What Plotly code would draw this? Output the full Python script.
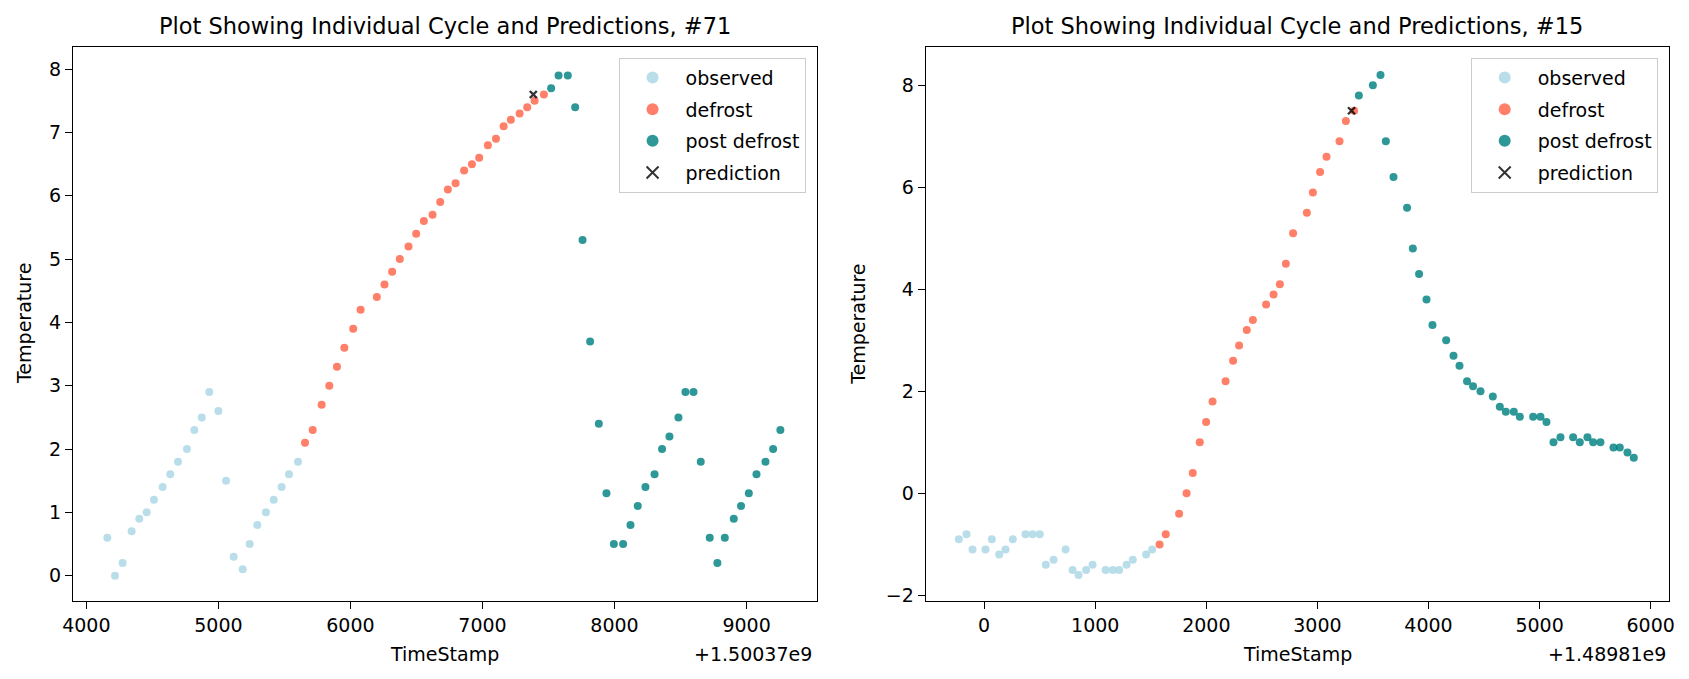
import plotly.graph_objects as go

# ---------------- data: cycle #71 (x = TimeStamp - 1.50037e9) ----------------
offset_71 = "+1.50037e9"
obs_x_71 = [4159, 4217, 4275, 4343, 4401, 4457, 4512, 4578, 4636, 4694, 4762, 4818, 4874,
            4931, 5000, 5058, 5116, 5184, 5237, 5295, 5360, 5419, 5479, 5535, 5603]
obs_y_71 = [0.6, 0.0, 0.2, 0.7, 0.9, 1.0, 1.2, 1.4, 1.6, 1.8, 2.0, 2.3, 2.5,
            2.9, 2.6, 1.5, 0.3, 0.1, 0.5, 0.8, 1.0, 1.2, 1.4, 1.6, 1.8]
def_x_71 = [5656, 5714, 5782, 5840, 5898, 5954, 6021, 6077, 6200, 6258, 6316, 6374, 6440,
            6498, 6556, 6622, 6680, 6738, 6796, 6861, 6920, 6975, 7041, 7102, 7160, 7215,
            7281, 7339, 7395, 7465]
def_y_71 = [2.1, 2.3, 2.7, 3.0, 3.3, 3.6, 3.9, 4.2, 4.4, 4.6, 4.8, 5.0, 5.2,
            5.4, 5.6, 5.7, 5.9, 6.1, 6.2, 6.4, 6.5, 6.6, 6.8, 6.9, 7.1, 7.2,
            7.3, 7.4, 7.5, 7.6]
post_x_71 = [7520, 7576, 7646, 7702, 7758, 7815, 7881, 7939, 7995, 8065, 8121, 8176, 8234,
             8303, 8360, 8416, 8484, 8537, 8598, 8653, 8721, 8779, 8835, 8903, 8958, 9017,
             9075, 9143, 9201, 9256]
post_y_71 = [7.7, 7.9, 7.9, 7.4, 5.3, 3.7, 2.4, 1.3, 0.5, 0.5, 0.8, 1.1, 1.4,
             1.6, 2.0, 2.2, 2.5, 2.9, 2.9, 1.8, 0.6, 0.2, 0.6, 0.9, 1.1, 1.3,
             1.6, 1.8, 2.0, 2.3]
pred_x_71 = [7385]
pred_y_71 = [7.6]

# ---------------- data: cycle #15 (x = TimeStamp - 1.48981e9) ----------------
offset_15 = "+1.48981e9"
obs_x_15 = [-228, -159, -105, 12, 69, 135, 192, 258, 372, 436, 501, 555, 625, 733, 796,
            850, 918, 976, 1093, 1158, 1215, 1282, 1338, 1458, 1512]
obs_y_15 = [-0.9, -0.8, -1.1, -1.1, -0.9, -1.2, -1.1, -0.9, -0.8, -0.8, -0.8, -1.4, -1.3,
            -1.1, -1.5, -1.6, -1.5, -1.4, -1.5, -1.5, -1.5, -1.4, -1.3, -1.2, -1.1]
def_x_15 = [1579, 1635, 1755, 1822, 1878, 1941, 1998, 2056, 2173, 2241, 2295, 2364, 2419,
            2538, 2605, 2662, 2716, 2781, 2905, 2959, 3024, 3082, 3199, 3256, 3331]
def_y_15 = [-1.0, -0.8, -0.4, 0.0, 0.4, 1.0, 1.4, 1.8, 2.2, 2.6, 2.9, 3.2, 3.4,
            3.7, 3.9, 4.1, 4.5, 5.1, 5.5, 5.9, 6.3, 6.6, 6.9, 7.3, 7.5]
post_x_15 = [3373, 3499, 3568, 3616, 3685, 3807, 3859, 3915, 3982, 4036, 4159, 4225, 4279,
             4347, 4401, 4468, 4579, 4642, 4696, 4768, 4822, 4942, 5008, 5062, 5125, 5188,
             5302, 5362, 5431, 5482, 5548, 5665, 5722, 5791, 5848]
post_y_15 = [7.8, 8.0, 8.2, 6.9, 6.2, 5.6, 4.8, 4.3, 3.8, 3.3, 3.0, 2.7, 2.5,
             2.2, 2.1, 2.0, 1.9, 1.7, 1.6, 1.6, 1.5, 1.5, 1.5, 1.4, 1.0, 1.1,
             1.1, 1.0, 1.1, 1.0, 1.0, 0.9, 0.9, 0.8, 0.7]
pred_x_15 = [3307]
pred_y_15 = [7.5]

titles = ["Plot Showing Individual Cycle and Predictions, #71",
          "Plot Showing Individual Cycle and Predictions, #15"]
series_names = ["observed", "defrost", "post defrost", "prediction"]

# ---------------- styling ----------------
FONT = "DejaVu Sans"
C_OBS = "rgba(173,216,230,0.85)"
C_DEF = "rgba(255,99,71,0.82)"
C_POST = "rgba(0,128,128,0.82)"
C_PRED = "rgba(0,0,0,0.8)"
MS = 8

W, H = 1689, 679
ML, MR, MT, MB = 73, 19.7, 46.7, 78
PW = W - ML - MR
PH = H - MT - MB


def px_x(x):
    return (x - ML) / PW


def px_y(y):
    return 1 - (y - MT) / PH


fig = go.Figure()

panels = [
    (obs_x_71, obs_y_71, def_x_71, def_y_71, post_x_71, post_y_71, pred_x_71, pred_y_71, "x", "y", "legend"),
    (obs_x_15, obs_y_15, def_x_15, def_y_15, post_x_15, post_y_15, pred_x_15, pred_y_15, "x2", "y2", "legend2"),
]

for (ox, oy, dx, dy, qx, qy, px_, py_, xa, ya, lg) in panels:
    fig.add_trace(go.Scatter(x=ox, y=oy, mode="markers", name=series_names[0],
                             marker=dict(color=C_OBS, size=MS), xaxis=xa, yaxis=ya,
                             legend=lg, legendgroup=lg + "a"))
    fig.add_trace(go.Scatter(x=dx, y=dy, mode="markers", name=series_names[1],
                             marker=dict(color=C_DEF, size=MS), xaxis=xa, yaxis=ya,
                             legend=lg, legendgroup=lg + "b"))
    fig.add_trace(go.Scatter(x=qx, y=qy, mode="markers", name=series_names[2],
                             marker=dict(color=C_POST, size=MS), xaxis=xa, yaxis=ya,
                             legend=lg, legendgroup=lg + "c"))
    fig.add_trace(go.Scatter(x=px_, y=py_, mode="markers", name=series_names[3],
                             marker=dict(symbol="x-thin", color=C_PRED, size=7,
                                         line=dict(color=C_PRED, width=2.4)),
                             xaxis=xa, yaxis=ya, legend=lg, legendgroup=lg + "d"))

dom1 = [0, px_x(816.7)]
dom2 = [px_x(926), 1]

axis_common = dict(showline=True, linecolor="black", linewidth=1.3, mirror=True,
                   ticks="outside", ticklen=7, tickwidth=1.3, tickcolor="black",
                   showgrid=False, zeroline=False,
                   tickfont=dict(family=FONT, size=19, color="black"))

legend_common = dict(font=dict(family=FONT, size=19, color="black"),
                     bgcolor="rgba(255,255,255,0.8)", bordercolor="#cccccc", borderwidth=1,
                     xanchor="right", yanchor="top", traceorder="grouped",
                     tracegroupgap=4, itemsizing="constant", itemwidth=56)

fig.update_layout(
    width=W, height=H,
    margin=dict(l=ML, r=MR, t=MT, b=MB),
    paper_bgcolor="white", plot_bgcolor="white",
    font=dict(family=FONT, size=19, color="black"),
    xaxis=dict(domain=dom1, range=[3899, 9530], tick0=4000, dtick=1000, anchor="y", **axis_common),
    yaxis=dict(domain=[0, 1], range=[-0.40, 8.35], tick0=0, dtick=1, anchor="x", **axis_common),
    xaxis2=dict(domain=dom2, range=[-525, 6165], tick0=0, dtick=1000, anchor="y2", **axis_common),
    yaxis2=dict(domain=[0, 1], range=[-2.11, 8.75], tick0=0, dtick=2, anchor="x2", **axis_common),
    legend=dict(x=px_x(805.7), y=px_y(57.3), **legend_common),
    legend2=dict(x=px_x(1658), y=px_y(57.3), **legend_common),
    showlegend=True,
)

ann = []
centers = [(dom1[0] + dom1[1]) / 2, (dom2[0] + dom2[1]) / 2]
for i, c in enumerate(centers):
    ann.append(dict(text=titles[i], x=c, y=px_y(26), xref="paper", yref="paper",
                    xanchor="center", yanchor="middle", showarrow=False,
                    font=dict(family=FONT, size=22.5, color="black")))
    ann.append(dict(text="TimeStamp", x=c, y=px_y(654), xref="paper", yref="paper",
                    xanchor="center", yanchor="middle", showarrow=False,
                    font=dict(family=FONT, size=19, color="black")))
ann.append(dict(text="Temperature", x=px_x(24), y=0.5, xref="paper", yref="paper",
                textangle=-90, xanchor="center", yanchor="middle", showarrow=False,
                font=dict(family=FONT, size=19, color="black")))
ann.append(dict(text="Temperature", x=px_x(858), y=0.5, xref="paper", yref="paper",
                textangle=-90, xanchor="center", yanchor="middle", showarrow=False,
                font=dict(family=FONT, size=19, color="black")))
ann.append(dict(text=offset_71, x=px_x(814), y=px_y(654), xref="paper", yref="paper",
                xanchor="right", yanchor="middle", showarrow=False,
                font=dict(family=FONT, size=19, color="black")))
ann.append(dict(text=offset_15, x=px_x(1668), y=px_y(654), xref="paper", yref="paper",
                xanchor="right", yanchor="middle", showarrow=False,
                font=dict(family=FONT, size=19, color="black")))
fig.update_layout(annotations=ann)

fig.write_html("out.html")
